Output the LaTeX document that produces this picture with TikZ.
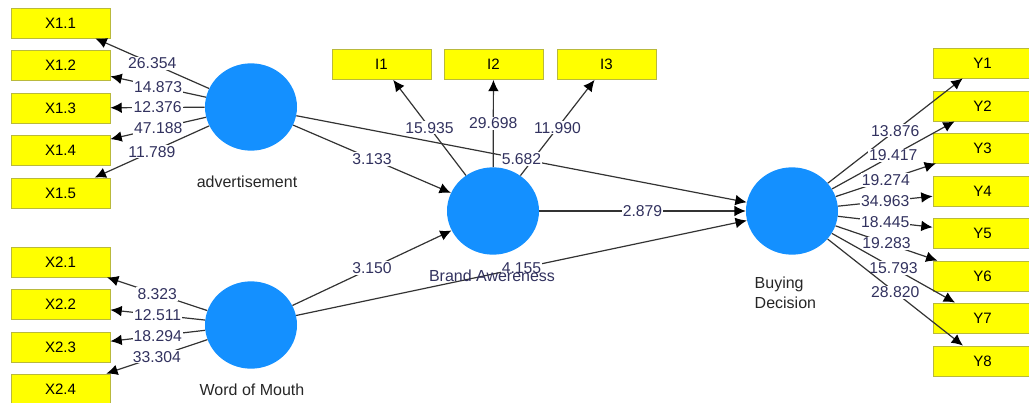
\documentclass[tikz,border=0pt]{standalone}
\usepackage{fontspec}
\setmainfont{Liberation Sans}
\usetikzlibrary{arrows.meta,shapes.geometric}
\definecolor{lvblue}{RGB}{20,144,255}
\definecolor{boxyel}{RGB}{255,255,0}
\definecolor{boxedge}{RGB}{185,185,60}
\definecolor{lbltext}{RGB}{50,50,95}
\begin{document}
\begin{tikzpicture}[x=0.75pt,y=-0.75pt,
  ind/.style={draw=boxedge, line width=0.6pt, fill=boxyel, minimum width=74.25pt, minimum height=22.5pt, inner sep=0pt, font=\fontsize{11.3}{13}\selectfont},
  lv/.style={ellipse, fill=lvblue, minimum width=69pt, minimum height=65.5pt, inner sep=0pt},
  conn/.style={draw=black!80, line width=0.9pt, -{Latex[length=8.5pt,width=8pt,color=black]}},
  lbl/.style={fill=white, inner sep=0.8pt, text=lbltext, font=\fontsize{11.8}{13}\selectfont},
  nm/.style={text=black!85, font=\fontsize{12}{15}\selectfont}
]
\useasboundingbox (0,0) rectangle (1029,403);
% latent variables
\node[lv] (adv) at (251,107) {};
\node[lv] (wom) at (251,325) {};
\node[lv] (ba) at (493,211) {};
\node[lv] (bd) at (792,211) {};
% indicators
\node[ind] (x11) at (60.5,23) {X1.1};
\node[ind] (x12) at (60.5,65.5) {X1.2};
\node[ind] (x13) at (60.5,108) {X1.3};
\node[ind] (x14) at (60.5,150.5) {X1.4};
\node[ind] (x15) at (60.5,193) {X1.5};
\node[ind] (x21) at (60.5,262) {X2.1};
\node[ind] (x22) at (60.5,304.5) {X2.2};
\node[ind] (x23) at (60.5,347) {X2.3};
\node[ind] (x24) at (60.5,389) {X2.4};
\node[ind] (i1) at (381.5,64.5) {I1};
\node[ind] (i2) at (493.5,64.5) {I2};
\node[ind] (i3) at (606.5,64.5) {I3};
\node[ind] (y1) at (982.5,63) {Y1};
\node[ind] (y2) at (982.5,106) {Y2};
\node[ind] (y3) at (982.5,148) {Y3};
\node[ind] (y4) at (982.5,191) {Y4};
\node[ind] (y5) at (982.5,233) {Y5};
\node[ind] (y6) at (982.5,276) {Y6};
\node[ind] (y7) at (982.5,318) {Y7};
\node[ind] (y8) at (982.5,361) {Y8};
% edges: lines first
\foreach \t/\v in {x11/26.354,x12/14.873,x13/12.376,x14/47.188,x15/11.789}
  \draw[conn] (adv) -- node[lbl]{\v} (\t);
\foreach \t/\v in {x21/8.323,x22/12.511,x23/18.294,x24/33.304}
  \draw[conn] (wom) -- node[lbl]{\v} (\t);
\foreach \t/\v in {i1/15.935,i2/29.698,i3/11.990}
  \draw[conn] (ba) -- node[lbl]{\v} (\t);
\foreach \t/\v in {y1/13.876,y2/19.417,y3/19.274,y4/34.963,y5/18.445,y6/19.283,y7/15.793,y8/28.820}
  \draw[conn] (bd) -- node[lbl]{\v} (\t);
\draw[conn] (adv) -- node[lbl]{3.133} (ba);
\draw[conn] (wom) -- node[lbl]{3.150} (ba);
\draw[conn] (adv) -- node[lbl]{5.682} (bd);
\draw[conn] (wom) -- node[lbl]{4.155} (bd);
\draw[conn] (ba) -- node[lbl]{2.879} (bd);
% names
\node[nm] (advname) at (247,182) {advertisement};
\node[nm] (womname) at (252,390) {Word of Mouth};
\node[nm, text=lbltext] (baname) at (492,276) {Brand Awereness};
\node[nm, anchor=west, align=left] (bdname) at (750,293) {Buying\\Decision};
\end{tikzpicture}
\end{document}
